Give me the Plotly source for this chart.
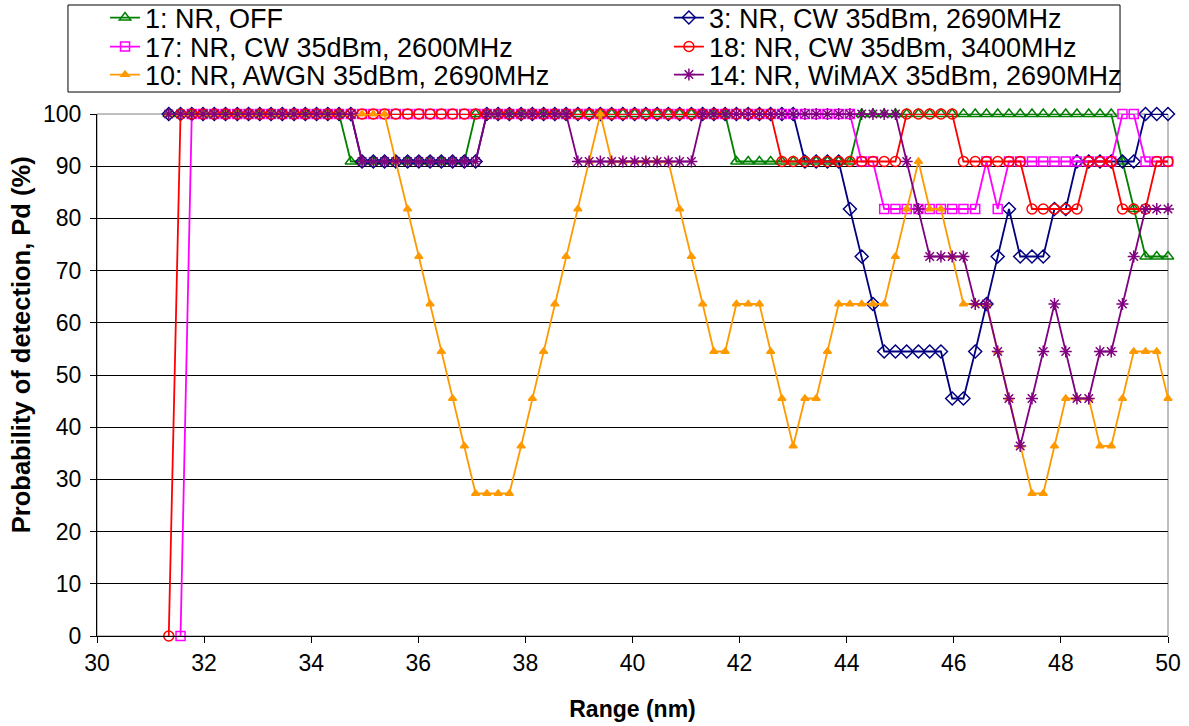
import plotly.graph_objects as go

range_nm = [
    31.34, 31.56, 31.77, 31.98, 32.19, 32.40, 32.62, 32.83, 33.04, 33.25,
    33.46, 33.68, 33.89, 34.10, 34.31, 34.52, 34.74, 34.95, 35.16, 35.37,
    35.58, 35.80, 36.01, 36.22, 36.43, 36.64, 36.86, 37.07, 37.28, 37.49,
    37.70, 37.92, 38.13, 38.34, 38.55, 38.76, 38.98, 39.19, 39.40, 39.61,
    39.82, 40.04, 40.25, 40.46, 40.67, 40.88, 41.10, 41.31, 41.52, 41.73,
    41.94, 42.16, 42.37, 42.58, 42.79, 43.00, 43.22, 43.43, 43.64, 43.85,
    44.06, 44.28, 44.49, 44.70, 44.91, 45.12, 45.34, 45.55, 45.76, 45.97,
    46.18, 46.40, 46.61, 46.82, 47.03, 47.24, 47.46, 47.67, 47.88, 48.09,
    48.30, 48.52, 48.73, 48.94, 49.15, 49.36, 49.58, 49.79, 50.00,
]

pd_1_off = [
    100, 100, 100, 100, 100, 100, 100, 100, 100, 100,
    100, 100, 100, 100, 100, 100, 90.9, 90.9, 90.9, 90.9,
    90.9, 90.9, 90.9, 90.9, 90.9, 90.9, 90.9, 100, 100, 100,
    100, 100, 100, 100, 100, 100, 100, 100, 100, 100,
    100, 100, 100, 100, 100, 100, 100, 100, 100, 100,
    90.9, 90.9, 90.9, 90.9, 90.9, 90.9, 90.9, 90.9, 90.9, 90.9,
    90.9, 100, 100, 100, 100, 100, 100, 100, 100, 100,
    100, 100, 100, 100, 100, 100, 100, 100, 100, 100,
    100, 100, 100, 100, 90.9, 81.8, 72.7, 72.7, 72.7,
]

pd_3_cw2690 = [
    100, 100, 100, 100, 100, 100, 100, 100, 100, 100,
    100, 100, 100, 100, 100, 100, 100, 90.9, 90.9, 90.9,
    90.9, 90.9, 90.9, 90.9, 90.9, 90.9, 90.9, 90.9, 100, 100,
    100, 100, 100, 100, 100, 100, 100, 100, 100, 100,
    100, 100, 100, 100, 100, 100, 100, 100, 100, 100,
    100, 100, 100, 100, 100, 100, 90.9, 90.9, 90.9, 90.9,
    81.8, 72.7, 63.6, 54.5, 54.5, 54.5, 54.5, 54.5, 54.5, 45.5,
    45.5, 54.5, 63.6, 72.7, 81.8, 72.7, 72.7, 72.7, 81.8, 81.8,
    90.9, 90.9, 90.9, 90.9, 90.9, 90.9, 100, 100, 100,
]

pd_17_cw2600 = [
    None, 0, 100, 100, 100, 100, 100, 100, 100, 100,
    100, 100, 100, 100, 100, 100, 100, 100, 100, 100,
    100, 100, 100, 100, 100, 100, 100, 100, 100, 100,
    100, 100, 100, 100, 100, 100, 100, 100, 100, 100,
    100, 100, 100, 100, 100, 100, 100, 100, 100, 100,
    100, 100, 100, 100, 100, 100, 100, 100, 100, 100,
    100, 90.9, 90.9, 81.8, 81.8, 81.8, 81.8, 81.8, 81.8, 81.8,
    81.8, 81.8, 90.9, 81.8, 90.9, 90.9, 90.9, 90.9, 90.9, 90.9,
    90.9, 90.9, 90.9, 90.9, 100, 100, 90.9, 90.9, 90.9,
]

pd_18_cw3400 = [
    0, 100, 100, 100, 100, 100, 100, 100, 100, 100,
    100, 100, 100, 100, 100, 100, 100, 100, 100, 100,
    100, 100, 100, 100, 100, 100, 100, 100, 100, 100,
    100, 100, 100, 100, 100, 100, 100, 100, 100, 100,
    100, 100, 100, 100, 100, 100, 100, 100, 100, 100,
    100, 100, 100, 100, 90.9, 90.9, 90.9, 90.9, 90.9, 90.9,
    90.9, 90.9, 90.9, 90.9, 90.9, 100, 100, 100, 100, 100,
    90.9, 90.9, 90.9, 90.9, 90.9, 90.9, 81.8, 81.8, 81.8, 81.8,
    81.8, 90.9, 90.9, 90.9, 81.8, 81.8, 81.8, 90.9, 90.9,
]

pd_10_awgn = [
    100, 100, 100, 100, 100, 100, 100, 100, 100, 100,
    100, 100, 100, 100, 100, 100, 100, 100, 100, 100,
    90.9, 81.8, 72.7, 63.6, 54.5, 45.5, 36.4, 27.3, 27.3, 27.3,
    27.3, 36.4, 45.5, 54.5, 63.6, 72.7, 81.8, 90.9, 100, 90.9,
    90.9, 90.9, 90.9, 90.9, 90.9, 81.8, 72.7, 63.6, 54.5, 54.5,
    63.6, 63.6, 63.6, 54.5, 45.5, 36.4, 45.5, 45.5, 54.5, 63.6,
    63.6, 63.6, 63.6, 63.6, 72.7, 81.8, 90.9, 81.8, 81.8, 72.7,
    63.6, 63.6, 63.6, 54.5, 45.5, 36.4, 27.3, 27.3, 36.4, 45.5,
    45.5, 45.5, 36.4, 36.4, 45.5, 54.5, 54.5, 54.5, 45.5,
]

pd_14_wimax = [
    100, 100, 100, 100, 100, 100, 100, 100, 100, 100,
    100, 100, 100, 100, 100, 100, 100, 90.9, 90.9, 90.9,
    90.9, 90.9, 90.9, 90.9, 90.9, 90.9, 90.9, 90.9, 100, 100,
    100, 100, 100, 100, 100, 100, 90.9, 90.9, 90.9, 90.9,
    90.9, 90.9, 90.9, 90.9, 90.9, 90.9, 90.9, 100, 100, 100,
    100, 100, 100, 100, 100, 100, 100, 100, 100, 100,
    100, 100, 100, 100, 100, 90.9, 81.8, 72.7, 72.7, 72.7,
    72.7, 63.6, 63.6, 54.5, 45.5, 36.4, 45.5, 54.5, 63.6, 54.5,
    45.5, 45.5, 54.5, 54.5, 63.6, 72.7, 81.8, 81.8, 81.8,
]

series_names = [
    "1: NR, OFF",
    "3: NR, CW 35dBm, 2690MHz",
    "17: NR, CW 35dBm, 2600MHz",
    "18: NR, CW 35dBm, 3400MHz",
    "10: NR, AWGN 35dBm, 2690MHz",
    "14: NR, WiMAX 35dBm, 2690MHz",
]
series_values = [pd_1_off, pd_3_cw2690, pd_17_cw2600, pd_18_cw3400, pd_10_awgn, pd_14_wimax]
colors = ["#008000", "#000080", "#FF00FF", "#FF0000", "#FF9900", "#800080"]
symbols = ["triangle-up-open", "diamond-open", "square-open", "circle-open", "triangle-up", "asterisk-open"]
sizes = [10, 10, 9, 10, 7, 10]
legend_ids = ["legend", "legend2", "legend3", "legend4", "legend5", "legend6"]

FONT = "Liberation Sans, Arial, sans-serif"

fig = go.Figure()
for name, vals, col, sym, sz, lg in zip(series_names, series_values, colors, symbols, sizes, legend_ids):
    fig.add_trace(go.Scatter(
        x=range_nm, y=vals, name=name, mode="lines+markers",
        line=dict(color=col, width=1.8),
        marker=dict(symbol=sym, size=sz, color=col, line=dict(color=col, width=1.5)),
        cliponaxis=False, legend=lg, showlegend=True,
    ))

# legend slots: (x paper, y paper centre) for a 2-column, 3-row legend
col_x = [0.0075, 0.534]
row_y = [1.1839, 1.1284, 1.0747]
legend_layout = {}
for k, lg in enumerate(legend_ids):
    legend_layout[lg] = dict(
        x=col_x[k % 2], y=row_y[k // 2], xanchor="left", yanchor="middle",
        orientation="v", bgcolor="rgba(0,0,0,0)", borderwidth=0,
        font=dict(size=27), itemwidth=30, visible=True,
    )

fig.update_layout(
    width=1189, height=726,
    showlegend=True,
    margin=dict(l=97, r=21, t=114, b=90, autoexpand=False),
    paper_bgcolor="white", plot_bgcolor="white",
    font=dict(family=FONT, size=22, color="black"),
    xaxis=dict(
        range=[30, 50], dtick=2, tick0=30, showgrid=False, zeroline=False,
        showline=True, linecolor="black", linewidth=1,
        ticks="outside", ticklen=6, tickcolor="black",
        tickfont=dict(size=23),
        title=dict(text="<b>Range (nm)</b>", font=dict(size=23), standoff=26),
    ),
    yaxis=dict(
        range=[0, 100], dtick=10, tick0=0, showgrid=True, gridcolor="black", gridwidth=1,
        zeroline=False, showline=True, linecolor="black", linewidth=1,
        ticks="outside", ticklen=6, tickcolor="black", ticklabelstandoff=4,
        tickfont=dict(size=23),
    ),
    annotations=[
        dict(text="<b>Probability of detection, Pd (%)</b>", xref="paper", yref="paper",
             x=-0.071, y=0.559, xanchor="center", yanchor="middle", textangle=-90,
             showarrow=False, font=dict(size=25.5)),
    ],
    shapes=[
        dict(type="rect", xref="paper", yref="paper", x0=0, x1=1, y0=0, y1=1,
             line=dict(color="#808080", width=1), layer="below"),
        dict(type="rect", xref="paper", yref="paper", x0=-0.0271, x1=0.9552, y0=1.0421, y1=1.2088,
             line=dict(color="black", width=1), layer="above"),
    ],
    **legend_layout,
)

fig.write_html("out.html")
